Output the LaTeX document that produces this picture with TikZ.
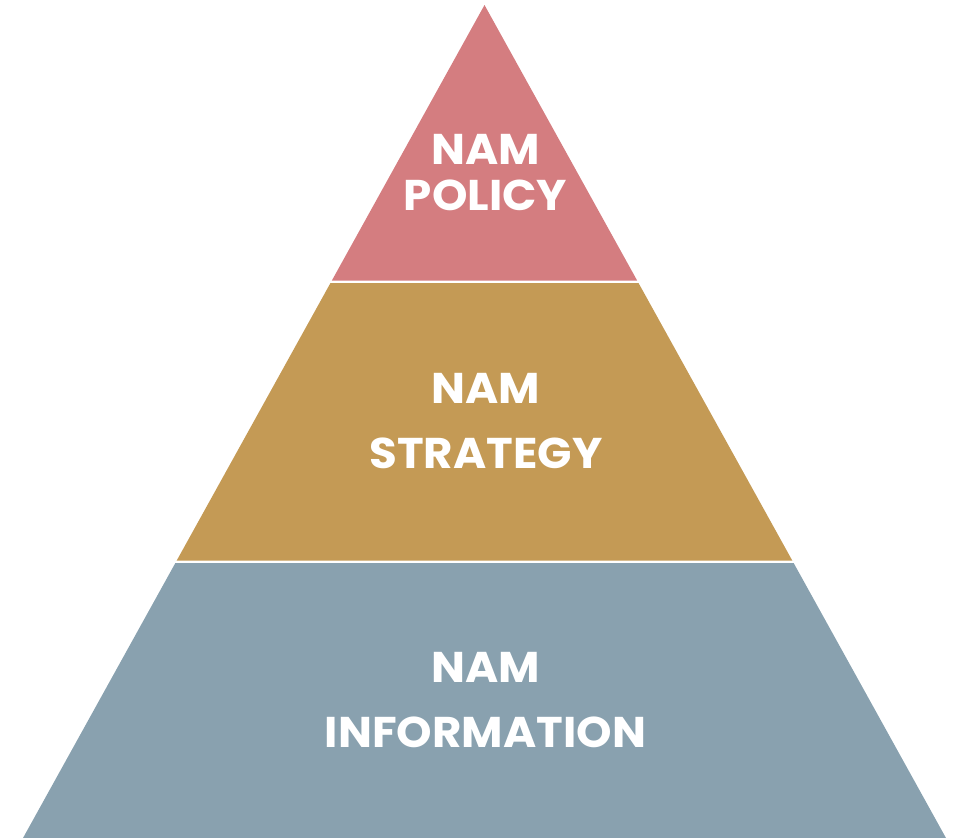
\documentclass[tikz,border=0pt]{standalone}
\usepackage{fontspec}
\newfontfamily\labelfont{Poppins}[FakeStretch=1.05]
\definecolor{layerred}{HTML}{D47D80}
\definecolor{layergold}{HTML}{C49A55}
\definecolor{layerblue}{HTML}{89A1AF}
\begin{document}
\begin{tikzpicture}[x=1pt,y=-1pt,
  layertext/.style={text=white, align=center, inner sep=0pt, text depth=0pt, anchor=south},
]
\useasboundingbox (0,0) rectangle (964,838);
% layers
\fill[layerred]  (484.5,5) -- (637.13,280.5) -- (331.87,280.5) -- cycle;
\fill[layergold] (330.48,283) -- (638.52,283) -- (792.26,560.5) -- (176.74,560.5) -- cycle;
\fill[layerblue] (175.36,563) -- (793.64,563) -- (946,838) -- (23,838) -- cycle;
% labels
\node[layertext, font={\labelfont\bfseries\fontsize{43}{45.5}\selectfont}] (policy) at (485.5,210.5) {NAM\\POLICY};
\node[layertext, font={\labelfont\bfseries\fontsize{43}{65}\selectfont}] (strategy) at (486,468.3) {NAM\\STRATEGY};
\node[layertext, font={\labelfont\bfseries\fontsize{43}{65}\selectfont}] (information) at (485.5,748) {NAM\\INFORMATION};
\end{tikzpicture}
\end{document}
